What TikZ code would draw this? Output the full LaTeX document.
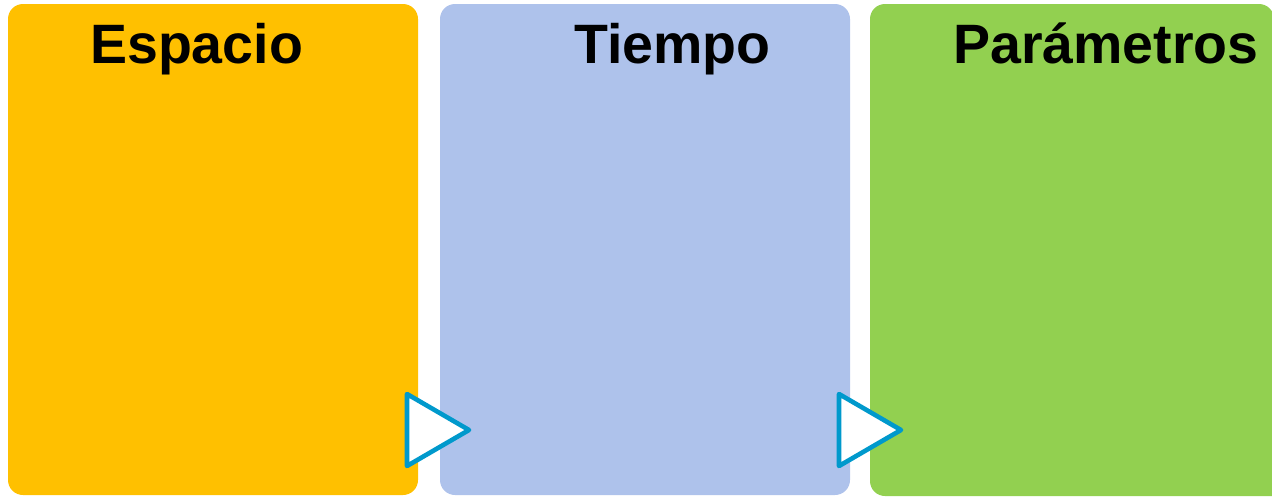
\documentclass[tikz,border=0pt]{standalone}
\usepackage{fontspec}
\setmainfont{Liberation Sans}
\definecolor{cOrange}{HTML}{FFC000}
\definecolor{cBlue}{HTML}{AEC2EB}
\definecolor{cGreen}{HTML}{92D050}
\definecolor{cTri}{HTML}{0099CC}
\begin{document}
\begin{tikzpicture}[x=1pt,y=-1pt,
  panel/.style={rounded corners=15pt},
  title/.style={anchor=base west,inner sep=0pt,font=\fontsize{55.5}{60}\selectfont\bfseries},
  tri/.style={draw=cTri,fill=white,line width=4.6pt,line join=round}]
\useasboundingbox (0,0) rectangle (1272,496);
\begin{scope}
\clip (0,0) rectangle (1272,496);
\fill[cOrange,panel] (8,4) rectangle (418,495);
\fill[cBlue,panel] (440,4) rectangle (850,495);
\fill[cGreen] (870,250) [rounded corners=15pt] -- (870,4) -- (1274,4) [sharp corners] -- (1274,496) [rounded corners=15pt] -- (870,496) [sharp corners] -- cycle;
\end{scope}
\node[title] (t1) at (90,63) {Espacio};
\node[title] (t2) at (574,63) {Tiempo};
\node[title] (t3) at (953,63) {Parámetros};
\draw[tri] (407,394) -- (407,466) -- (469,430) -- cycle;
\draw[tri] (839,394) -- (839,466) -- (901,430) -- cycle;
\end{tikzpicture}
\end{document}
